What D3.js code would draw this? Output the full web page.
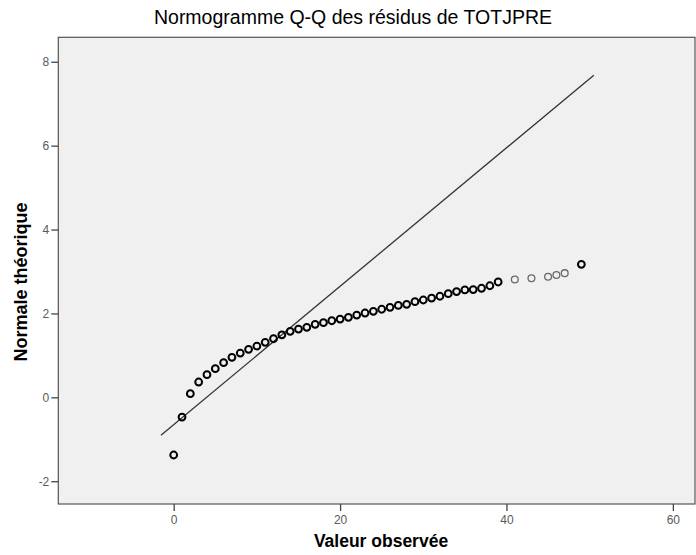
<!DOCTYPE html>
<html>
<head>
<meta charset="utf-8">
<script src="https://cdn.jsdelivr.net/npm/d3@7/dist/d3.min.js"></script>
<style>
  html, body { margin: 0; padding: 0; background: #ffffff; }
  svg { display: block; }
  text { font-family: "Liberation Sans", Arial, sans-serif; }
</style>
</head>
<body>
<svg id="chart" width="696" height="555"></svg>
<script>
// Observed residual values (x) and their expected normal quantiles (y)
const observed = [0, 1, 2, 3, 4, 5, 6, 7, 8, 9, 10, 11, 12, 13, 14, 15, 16, 17, 18, 19,
                  20, 21, 22, 23, 24, 25, 26, 27, 28, 29, 30, 31, 32, 33, 34, 35, 36, 37, 38, 39,
                  41, 43, 45, 46, 47, 49];
const expected = [-1.375, -0.47, 0.086, 0.365, 0.539, 0.682, 0.825, 0.954, 1.056, 1.144,
                  1.223, 1.311, 1.397, 1.49, 1.573, 1.628, 1.668, 1.74, 1.78, 1.826,
                  1.866, 1.907, 1.962, 2.01, 2.05, 2.10, 2.145, 2.19, 2.217, 2.28,
                  2.32, 2.367, 2.41, 2.47, 2.52, 2.56, 2.57, 2.60, 2.66, 2.75,
                  2.81, 2.84, 2.875, 2.915, 2.96, 3.17];
// Number of cases sharing each plotted value
const ties = [2, 2, 2, 2, 2, 2, 2, 2, 2, 2, 2, 2, 2, 2, 2, 2, 2, 2, 2, 2,
              2, 2, 2, 2, 2, 2, 2, 2, 2, 2, 2, 2, 2, 2, 2, 2, 2, 2, 2, 2,
              1, 1, 1, 1, 1, 2];
// Reference line end points (observed, expected)
const refLineX = [-1.53, 50.5];
const refLineY = [-0.906, 7.68];

const xTicks = [0, 20, 40, 60];
const yTicks = [-2, 0, 2, 4, 6, 8];

const title = "Normogramme Q-Q des résidus de TOTJPRE";
const xTitle = "Valeur observée";
const yTitle = "Normale théorique";

const svg = d3.select("#chart");
const plot = { left: 58.3, right: 695, top: 37.3, bottom: 504 };

const x = d3.scaleLinear().domain([-13.87, 62.66]).range([plot.left, plot.right]);
const y = d3.scaleLinear().domain([-2.543, 8.583]).range([plot.bottom, plot.top]);

// plot background
svg.append("rect")
  .attr("x", plot.left).attr("y", plot.top)
  .attr("width", plot.right - plot.left).attr("height", plot.bottom - plot.top)
  .attr("fill", "#f0f0f0")
  .attr("stroke", "#555").attr("stroke-width", 1.2);

// axes (plain hyphen for negative labels)
const fmt = d => String(d);
const xAxis = svg.append("g")
  .attr("transform", `translate(0,${plot.bottom})`)
  .call(d3.axisBottom(x).tickValues(xTicks).tickSize(7).tickPadding(4).tickFormat(fmt));
const yAxis = svg.append("g")
  .attr("transform", `translate(${plot.left},0)`)
  .call(d3.axisLeft(y).tickValues(yTicks).tickSize(7).tickPadding(2).tickFormat(fmt));

[xAxis, yAxis].forEach(g => {
  g.select(".domain").remove();
  g.selectAll(".tick line").attr("stroke", "#444").attr("stroke-width", 1.3);
  g.selectAll(".tick text")
    .attr("fill", "#5a5a5a")
    .style("font-family", "'Liberation Sans', Arial, sans-serif")
    .style("font-size", "12px");
});

// reference line
svg.append("line")
  .attr("x1", x(refLineX[0])).attr("y1", y(refLineY[0]))
  .attr("x2", x(refLineX[1])).attr("y2", y(refLineY[1]))
  .attr("stroke", "#333").attr("stroke-width", 1.3);

// points
const pts = observed.map((v, i) => ({ obs: v, exp: expected[i], n: ties[i] }));
svg.append("g").selectAll("circle")
  .data(pts)
  .join("circle")
  .attr("cx", d => x(d.obs))
  .attr("cy", d => y(d.exp))
  .attr("r", 3.4)
  .attr("fill", "none")
  .attr("stroke", d => d.n > 1 ? "#000" : "#6a6a6a")
  .attr("stroke-width", d => d.n > 1 ? 2 : 1.3);

// titles
svg.append("text")
  .attr("x", 353).attr("y", 24)
  .attr("text-anchor", "middle")
  .style("font-size", "19.5px")
  .attr("fill", "#000")
  .text(title);

svg.append("text")
  .attr("x", 381).attr("y", 547)
  .attr("text-anchor", "middle")
  .style("font-size", "17.5px")
  .style("font-weight", "bold")
  .attr("fill", "#000")
  .text(xTitle);

svg.append("text")
  .attr("transform", "translate(27,282) rotate(-90)")
  .attr("text-anchor", "middle")
  .style("font-size", "18px")
  .style("font-weight", "bold")
  .attr("fill", "#000")
  .text(yTitle);
</script>
</body>
</html>
